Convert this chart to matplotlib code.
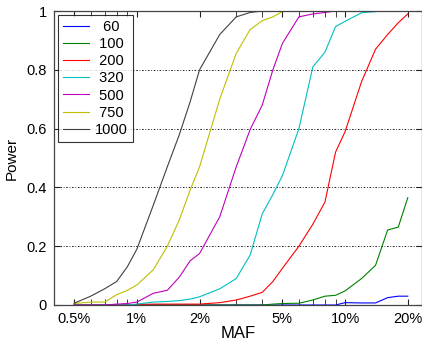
import matplotlib
matplotlib.use("Agg")
import matplotlib.pyplot as plt
from matplotlib.ticker import FixedLocator, LogLocator, NullFormatter

plt.rcParams['font.family'] = ['Liberation Sans', 'DejaVu Sans']

# MAF grid (in %)
maf = [0.5, 0.6, 0.7, 0.8, 0.9, 1.0, 1.2, 1.4, 1.6, 1.8, 2.0, 2.5, 3, 3.5, 4, 4.5,
       5, 6, 7, 8, 9, 10, 12, 14, 16, 18, 20]

# power per sample size
p60 = [0, 0, 0, 0, 0, 0, 0, 0, 0, 0, 0, 0, 0, 0, 0, 0,
       0, 0, 0, 0, 0, 0.008, 0.007, 0.007, 0.025, 0.03, 0.03]
p100 = [0, 0, 0, 0, 0, 0, 0, 0, 0, 0, 0, 0, 0, 0, 0, 0.003,
        0.005, 0.006, 0.017, 0.03, 0.033, 0.048, 0.09, 0.135, 0.255, 0.265, 0.365]
p200 = [0, 0, 0, 0, 0, 0.002, 0.003, 0.003, 0.003, 0.003, 0.003, 0.008, 0.017, 0.03, 0.043, 0.08,
        0.125, 0.2, 0.275, 0.35, 0.52, 0.59, 0.76, 0.87, 0.92, 0.96, 0.99]
p320 = [0, 0, 0, 0, 0, 0.003, 0.01, 0.012, 0.015, 0.02, 0.028, 0.055, 0.09, 0.17, 0.31, 0.376,
        0.44, 0.60, 0.81, 0.86, 0.947, 0.965, 0.994, 0.998, 1, 1, 1]
p500 = [0, 0, 0, 0.003, 0.005, 0.01, 0.04, 0.05, 0.095, 0.15, 0.175, 0.30, 0.47, 0.597, 0.68, 0.80,
        0.89, 0.98, 0.99, 0.995, 1, 1, 1, 1, 1, 1, 1]
p750 = [0.005, 0.01, 0.01, 0.035, 0.05, 0.068, 0.12, 0.2, 0.29, 0.39, 0.47, 0.70, 0.856, 0.937, 0.967, 0.98,
        0.998, 1, 1, 1, 1, 1, 1, 1, 1, 1, 1]
p1000 = [0.006, 0.03, 0.055, 0.08, 0.13, 0.19, 0.34, 0.47, 0.58, 0.69, 0.80, 0.92, 0.98, 0.995, 1, 1,
         1, 1, 1, 1, 1, 1, 1, 1, 1, 1, 1]

sizes = ['60', '100', '200', '320', '500', '750', '1000']
series = [p60, p100, p200, p320, p500, p750, p1000]
colors = ['#0000ff', '#008000', '#ff0000', '#00bfbf', '#bf00bf', '#bfbf00', '#404040']

fig = plt.figure(figsize=(4.22, 3.43), dpi=100)
ax = fig.add_axes([54 / 422, 38 / 343, 368 / 422, 294 / 343])

x = [m / 100 for m in maf]
for lab, y, c in zip(sizes, series, colors):
    # centre the label text like the original legend
    pad = {2: '\u2007', 3: '\u2008'}.get(len(lab), '')
    ax.plot(x, y, color=c, lw=0.8, label=pad + lab)

ax.set_xscale('log')
ax.set_xlim(0.004, 0.234)
ax.set_ylim(0, 1)

xt = [0.005, 0.01, 0.02, 0.05, 0.1, 0.2]
ax.xaxis.set_major_locator(FixedLocator(xt))
ax.set_xticklabels(['0.5%', '1%', '2%', '5%', '10%', '20%'])
ax.xaxis.set_minor_locator(LogLocator(base=10, subs=range(2, 10)))
ax.xaxis.set_minor_formatter(NullFormatter())
ax.set_yticks([0, 0.2, 0.4, 0.6, 0.8, 1])
ax.set_yticklabels(['0', '0.2', '0.4', '0.6', '0.8', '1'])

ax.tick_params(which='both', direction='in', top=True, right=True, labelsize=10.5, color='#222222')
ax.tick_params(which='major', length=4, pad=5)
ax.tick_params(which='minor', length=4)
for s in ax.spines.values():
    s.set_color('#444444')
    s.set_linewidth(0.9)

ax.yaxis.grid(True, color='black', lw=0.6, linestyle=(0, (2, 2, 1, 2)))
ax.set_axisbelow(True)

ax.set_xlabel('MAF', fontsize=12, labelpad=0)
ax.set_ylabel('Power', fontsize=11, labelpad=6)

leg = ax.legend(loc='upper left', fontsize=10.5, frameon=True, fancybox=False,
                handlelength=1.8, handletextpad=0.4, borderpad=0.35, labelspacing=0.22,
                borderaxespad=0.25)
leg.get_frame().set_edgecolor('black')
leg.get_frame().set_linewidth(0.8)

fig.savefig('out.png', dpi=100)
